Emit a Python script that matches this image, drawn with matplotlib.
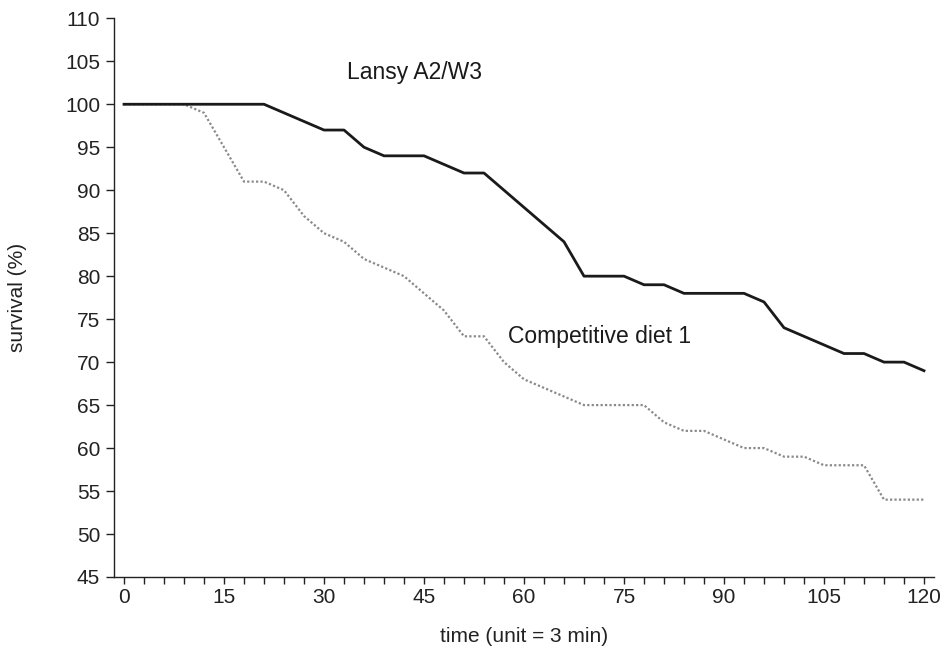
import matplotlib
matplotlib.use("Agg")
import matplotlib.pyplot as plt
from matplotlib.ticker import MultipleLocator

plt.rcParams['font.family'] = ['Liberation Sans', 'DejaVu Sans']

time = list(range(0, 121, 3))
lansy = [100, 100, 100, 100, 100, 100, 100, 100, 99, 98, 97, 97, 95, 94, 94, 94,
         93, 92, 92, 90, 88, 86, 84, 80, 80, 80, 79, 79, 78, 78, 78, 78, 77, 74,
         73, 72, 71, 71, 70, 70, 69]
competitive = [100, 100, 100, 100, 99, 95, 91, 91, 90, 87, 85, 84, 82, 81, 80, 78,
               76, 73, 73, 70, 68, 67, 66, 65, 65, 65, 65, 63, 62, 62, 61, 60, 60,
               59, 59, 58, 58, 58, 54, 54, 54]
yticks = list(range(45, 111, 5))
xticks = list(range(0, 121, 15))

fig = plt.figure(figsize=(9.51, 6.51), dpi=100)
ax = fig.add_axes([114/951, (651-577)/651, (934-114)/951, (577-18.3)/651])

ax.plot(time, competitive, color='#8a8a8a', lw=1.6, linestyle=(0, (1, 1)))
ax.plot(time, lansy, color='#1a1a1a', lw=2.0)

ax.set_xlim(-1.5, 121.5)
ax.set_ylim(45, 110)
ax.set_yticks(yticks)
ax.set_xticks(xticks)
ax.xaxis.set_minor_locator(MultipleLocator(3))

for s in ['top', 'right']:
    ax.spines[s].set_visible(False)
for s in ['left', 'bottom']:
    ax.spines[s].set_color('#222222')
    ax.spines[s].set_linewidth(1.0)

ax.tick_params(axis='y', which='major', direction='out', length=6, width=1,
               labelsize=15, pad=4, colors='#222222')
ax.tick_params(axis='x', which='both', direction='out', length=5, width=1,
               labelsize=15, pad=3, colors='#222222')

ax.set_xlabel('time (unit = 3 min)', fontsize=15, labelpad=14, color='#222222')
ax.set_ylabel('survival (%)', fontsize=15, labelpad=27, color='#222222')

ax.text(33.4, 103.75, 'Lansy A2/W3', fontsize=16.5, ha='left', va='center',
        color='#1a1a1a')
ax.text(57.6, 73.0, 'Competitive diet 1', fontsize=16.5, ha='left', va='center',
        color='#1a1a1a')

fig.savefig('out.png', dpi=100)
